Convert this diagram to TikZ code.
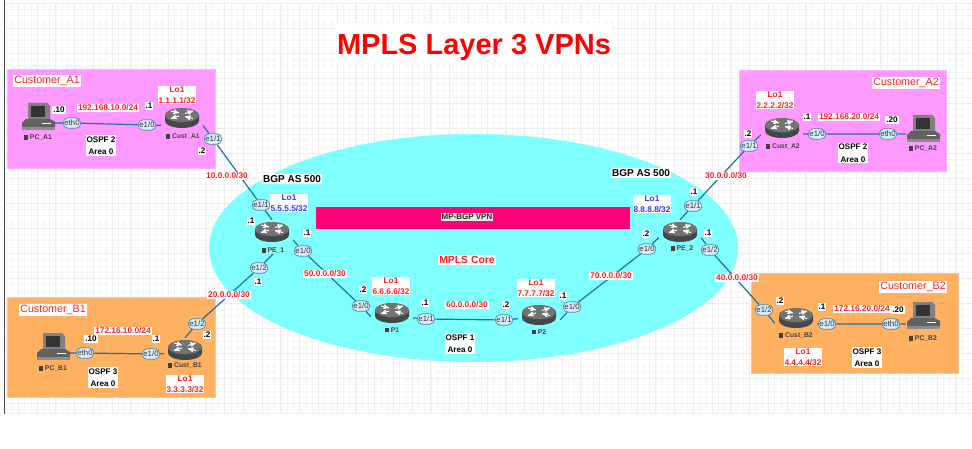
\documentclass[tikz,border=0pt]{standalone}
\usepackage{fontspec}
\setmainfont{Liberation Sans}
\usepackage{xcolor}
\usepackage{tikz}
\usetikzlibrary{arrows}
\usetikzlibrary{shapes.misc}
\definecolor{custpink}{HTML}{FF99FF}
\definecolor{custorange}{HTML}{FFB061}
\definecolor{corecyan}{HTML}{80FFFF}
\definecolor{vpnbar}{HTML}{FF0077}
\definecolor{linkblue}{HTML}{1F6FA8}
\definecolor{pillfill}{HTML}{D8ECF8}
\definecolor{pillline}{HTML}{4D88AC}
\definecolor{gridgray}{HTML}{EDEDED}
\definecolor{gridfaint}{HTML}{F6F6F6}
\definecolor{lo1blue}{HTML}{3333FF}
\definecolor{txtred}{HTML}{FF2020}
\tikzset{
  custbox/.style={draw=#1!75!white, line width=.8, fill=#1},
  routerbox/.style={rectangle, minimum width=42, minimum height=24, inner sep=0},
  pcbox/.style={rectangle, minimum width=34, minimum height=28, inner sep=0},
  devlabel/.style={font=\fontsize{6.8}{8}\selectfont\bfseries, text=black!75, inner sep=0},
  ifpill/.style={rounded rectangle, draw=pillline, line width=.7, fill=pillfill, minimum width=19, minimum height=10.5, inner sep=.6, font=\fontsize{7.8}{8}\selectfont, text=black!80},
  link/.style={draw=linkblue, line width=1.2},
  netlabel/.style={fill=white, align=center, inner sep=1, text=txtred, font=\fontsize{8.3}{11}\selectfont\bfseries},
  loblue/.style={netlabel, text=lo1blue},
  blacklabel/.style={fill=white, align=center, inner sep=1, text=black, font=\fontsize{8.1}{12.5}\selectfont\bfseries},
  custname/.style={fill=white, inner sep=1, text=txtred, font=\fontsize{10.7}{12}\selectfont},
  routericon/.pic={
    \fill[black!72] (-17,-3) -- (17,-3) -- (17,3) arc (0:-180:17 and -7) -- cycle;
    \fill[black!40!teal!60!gray] (0,-2.4) ellipse (17 and 7);
    \fill[black!55] (0,-3) ellipse (17 and 7);
    \draw[white, line width=1, ->, >=stealth'] (-11,-7)--(-3,-5);
    \draw[white, line width=1, ->, >=stealth'] (3,-4.5)--(11,-7);
    \draw[white, line width=1, ->, >=stealth'] (11,0.5)--(3,-1.5);
    \draw[white, line width=1, ->, >=stealth'] (-3,-2)--(-11,0.5);
  },
  pcicon/.pic={
    \fill[black!50] (-10,-15)--(9,-15)--(12,-12)--(12,1)--(-10,1)--cycle;
    \fill[black!80] (-7,-12) rectangle (7,-1);
    \fill[black!62] (-12,1)--(12,1)--(17,4)--(17,9)--(-16,9)--(-16,5)--cycle;
    \fill[black!45] (-16,9) rectangle (17,12);
    \draw[white, line width=.7] (4,5)--(13,5);
  }
}

\begin{document}
\begin{tikzpicture}[x=1pt,y=-1pt]
\useasboundingbox (0,0) rectangle (972,449);
\fill[white] (0,0) rectangle (972,449);
% background sheet
\foreach \x in {5.8,12.05,...,972} { \draw[gridfaint, line width=.6] (\x,3.3)--(\x,413.5); }
\foreach \y in {3.3,9.55,...,413} { \draw[gridfaint, line width=.6] (4,\y)--(972,\y); }
\foreach \x in {18.3,37.05,...,972} { \draw[gridgray, line width=.7] (\x,3.3)--(\x,413.5); }
\foreach \y in {3.3,28.3,...,413} { \draw[gridgray, line width=.7] (4,\y)--(972,\y); }
\draw[gridgray, line width=.7] (4,413.5)--(972,413.5);
\draw[black!70, line width=1] (4.5,0)--(4.5,413.5);

\draw[custbox=custpink] (7,69) rectangle (215,168);
\draw[custbox=custpink] (739,70) rectangle (946,171);
\draw[custbox=custorange] (7,297) rectangle (215,397);
\draw[custbox=custorange] (751,273) rectangle (958,373);
\fill[corecyan] (473.5,248) ellipse (264.5 and 114);
\fill[vpnbar] (316,207) rectangle (630,229);

\node[fill=white, text height=31, text depth=8, inner sep=1, text=red, font=\fontsize{29}{30}\selectfont\bfseries] (title) at (474,43.5) {MPLS Layer 3 VPNs};

% routers
\foreach \nm/\x/\y/\lx/\ly/\txt in {CustA1/182/118/183/137/Cust\_A1, CustA2/782/128/783/147/Cust\_A2, CustB1/185/350/185/366/Cust\_B1, CustB2/796/318/796/336/Cust\_B2, PE1/272/232/273/251/PE\_1, PE2/680/232/682/249/PE\_2, P1/392/313/392/330/P1, P2/539/315/539/332/P2} {
  \node[routerbox] (\nm) at (\x,\y) {};
  \pic at (\x,\y) {routericon};
  \node[devlabel] (\nm-lab) at (\lx,\ly) {\rule{4pt}{4.5pt} \txt};
}
% end hosts
\foreach \nm/\x/\y/\lx/\ly/\txt in {PCA1/38/118/38/138/PC\_A1, PCB1/53/348/53/369/PC\_B1, PCA2/923/130/923/149/PC\_A2, PCB2/923/317/923/339/PC\_B2} {
  \node[pcbox] (\nm) at (\x,\y) {};
  \pic at (\x,\y) {pcicon};
  \node[devlabel] (\nm-lab) at (\lx,\ly) {\rule{4pt}{4.5pt} \txt};
}

% interfaces
\foreach \nm/\x/\y/\txt in {a1eth/72/123/eth0, a1e0/147/125/e1{/}0, a1e1/213/139/e1{/}1, pe1e1/261/205/e1{/}1, pe1e0/303/251/e1{/}0, pe1e2/259/268/e1{/}2, b1e2/197/324/e1{/}2, b1e0/151/354/e1{/}0, b1eth/85/353/eth0, p1e0/361/306/e1{/}0, p1e1/426/319/e1{/}1, p2e1/504/320/e1{/}1, p2e0/572/307/e1{/}0, pe2e0/647/249/e1{/}0, pe2e1/693/206/e1{/}1, pe2e2/710/250/e1{/}2, a2e1/749/146/e1{/}1, a2e0/817/134/e1{/}0, a2eth/888/134/eth0, b2e2/764/310/e1{/}2, b2e0/827/324/e1{/}0, b2eth/891/324/eth0} {
  \node[ifpill] (\nm) at (\x,\y) {\txt};
}

% links
\draw[link] (PCA1.-16)--(a1eth)--(a1e0)--(CustA1.199);
\draw[link] (CustA1.-20)--(a1e1)--(pe1e1)--(PE1.north);
\draw[link] (PCB1.-16)--(b1eth)--(b1e0)--(CustB1.190);
\draw[link] (CustB1.north)--(b1e2)--(pe1e2)--(PE1-lab.south);
\draw[link] (PE1.-21)--(pe1e0)--(p1e0)--(P1.190);
\draw[link] (P1.-13)--(p1e1)--(p2e1)--(P2.190);
\draw[link] (P2.-13)--(p2e0)--(pe2e0)--(PE2.195);
\draw[link] (PE2.north)--(pe2e1)--(a2e1)--(CustA2.198);
\draw[link] (PE2.-15)--(pe2e2)--(b2e2)--(CustB2.194);
\draw[link] (CustA2.-16)--(a2e0)--(a2eth)--(PCA2.193);
\draw[link] (CustB2.-16)--(b2e0)--(b2eth)--(PCB2.-158);

% subnets and loopbacks
\foreach \nm/\x/\y/\txt in {netA1/108/108/{192.168.10.0/24}, netB1/123/331/{172.16.10.0/24}, netA2/849/117/{192.168.20.0/24}, netB2/862/309/{172.16.20.0/24}, net10/227/176/{10.0.0.0/30}, net20/229/295/{20.0.0.0/30}, net30/726/176/{30.0.0.0/30}, net40/737/278/{40.0.0.0/30}, net50/325/274/{50.0.0.0/30}, net60/467/305/{60.0.0.0/30}, net70/611/276/{70.0.0.0/30}, loA1/177/95/{Lo1\\1.1.1.1/32}, loA2/775/100/{Lo1\\2.2.2.2/32}, loB1/185/384/{Lo1\\3.3.3.3/32}, loB2/803/357/{Lo1\\4.4.4.4/32}, loP1/391/286/{Lo1\\6.6.6.6/32}, loP2/536/288/{Lo1\\7.7.7.7/32}} {
  \node[netlabel] (\nm) at (\x,\y) {\txt};
}
\node[loblue] (loPE1) at (289,203) {Lo1\\5.5.5.5/32};
\node[loblue] (loPE2) at (652,204) {Lo1\\8.8.8.8/32};

% host addresses
\foreach \nm/\x/\y/\txt in {d1/59/110/.10, d2/149/106/.1, d3/202/151/.2, d4/251/221/.1, d5/307/233/.1, d6/258/282/.1, d7/91/339/.10, d8/156/339/.1, d9/207/335/.2, d10/363/290/.2, d11/425/303/.1, d12/506/305/.2, d13/563/296/.1, d14/646/234/.2, d15/694/192/.1, d16/708/233/.1, d17/748/134/.2, d18/807/117/.1, d19/892/120/.20, d20/780/301/.2, d21/822/307/.1, d22/898/310/.20} {
  \node[blacklabel] (\nm) at (\x,\y) {\txt};
}
\foreach \nm/\x/\y/\txt in {osA1/101/145.5/{OSPF 2\\Area 0}, osA2/853/153/{OSPF 2\\Area 0}, osB1/103/377.5/{OSPF 3\\Area 0}, osB2/867/357.5/{OSPF 3\\Area 0}, osCore/460/343.5/{OSPF 1\\Area 0}} {
  \node[blacklabel] (\nm) at (\x,\y) {\txt};
}

\node[custname] (nameA1) at (47,81) {Customer\_A1};
\node[custname] (nameA2) at (906,83) {Customer\_A2};
\node[custname] (nameB1) at (53,310) {Customer\_B1};
\node[custname] (nameB2) at (913,287) {Customer\_B2};
\node[custname, font=\fontsize{10.4}{12}\selectfont\bfseries] (mplscore) at (467,260) {MPLS Core};
\node[blacklabel, font=\fontsize{10}{12}\selectfont\bfseries] (bgpL) at (292,179) {BGP AS 500};
\node[blacklabel, font=\fontsize{10}{12}\selectfont\bfseries] (bgpR) at (641,173) {BGP AS 500};
\node[fill=white!90!black, inner sep=.8, font=\fontsize{8}{9}\selectfont\bfseries, text=black!85] (mpbgp) at (467,217) {MP-BGP VPN};
\end{tikzpicture}
\end{document}
